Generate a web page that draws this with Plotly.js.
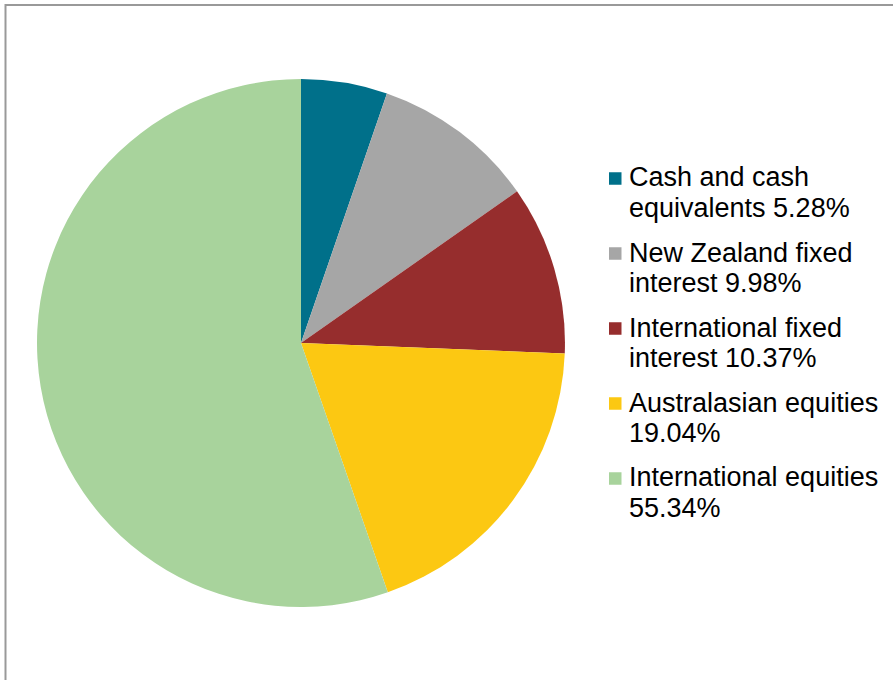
<!DOCTYPE html>
<html>
<head>
<meta charset="utf-8">
<script src="https://cdn.plot.ly/plotly-3.0.1.min.js"></script>
<style>html,body{margin:0;padding:0;background:#fff;}#chart{width:893px;height:680px;}</style>
</head>
<body>
<div id="chart"></div>
<script>
const categories = ["Cash and cash equivalents", "New Zealand fixed interest", "International fixed interest", "Australasian equities", "International equities"];
const legendLine1 = ["Cash and cash", "New Zealand fixed", "International fixed", "Australasian equities", "International equities"];
const legendLine2 = ["equivalents", "interest", "interest", "", ""];
const values = [5.28, 9.98, 10.37, 19.04, 55.34];
const colors = ["#00708A", "#A6A6A6", "#962D2D", "#FCC812", "#A8D39C"];

const W = 893, H = 680;
const trace = {
  type: "pie",
  labels: categories,
  values: values,
  sort: false,
  direction: "clockwise",
  rotation: 0,
  textinfo: "none",
  hoverinfo: "label+percent",
  marker: {colors: colors, line: {width: 0}},
  domain: {x: [0.0414, 0.6327], y: [0.1074, 0.8838]}
};

// custom legend (Office-style spacing)
const font = {family: "Liberation Sans, Arial, sans-serif", size: 27, color: "#000"};
const textX = 629, boxX = 609, boxS = 12.5;
const firstBaseline = 187, lineGap = 30, itemGap = 75;
const annotations = [], shapes = [];
categories.forEach((c, i) => {
  const b1 = firstBaseline + i * itemGap;
  const b2 = b1 + lineGap;
  const pct = values[i].toFixed(2) + "%";
  const l1 = legendLine1[i];
  const l2 = legendLine2[i] ? legendLine2[i] + " " + pct : pct;
  [[l1, b1], [l2, b2]].forEach(([t, b]) => {
    annotations.push({
      text: t, xref: "paper", yref: "paper",
      x: textX / W, y: 1 - (b - 9.5) / H,
      xanchor: "left", yanchor: "middle", showarrow: false,
      font: font, xshift: -2
    });
  });
  const cy = b1 - 8.5;
  shapes.push({
    type: "rect", xref: "paper", yref: "paper",
    x0: boxX / W, x1: (boxX + boxS) / W,
    y0: 1 - (cy + boxS / 2) / H, y1: 1 - (cy - boxS / 2) / H,
    fillcolor: colors[i], line: {width: 0}
  });
});
shapes.push({
  type: "rect", xref: "paper", yref: "paper",
  x0: 5.5 / W, x1: 1.02, y0: -0.02, y1: 1 - 5 / H,
  line: {color: "#999999", width: 2}
});

const layout = {
  width: W, height: H,
  margin: {l: 0, r: 0, t: 0, b: 0},
  paper_bgcolor: "#fff",
  showlegend: false,
  annotations: annotations,
  shapes: shapes
};

Plotly.newPlot("chart", [trace], layout, {displayModeBar: false, staticPlot: true});
</script>
</body>
</html>
